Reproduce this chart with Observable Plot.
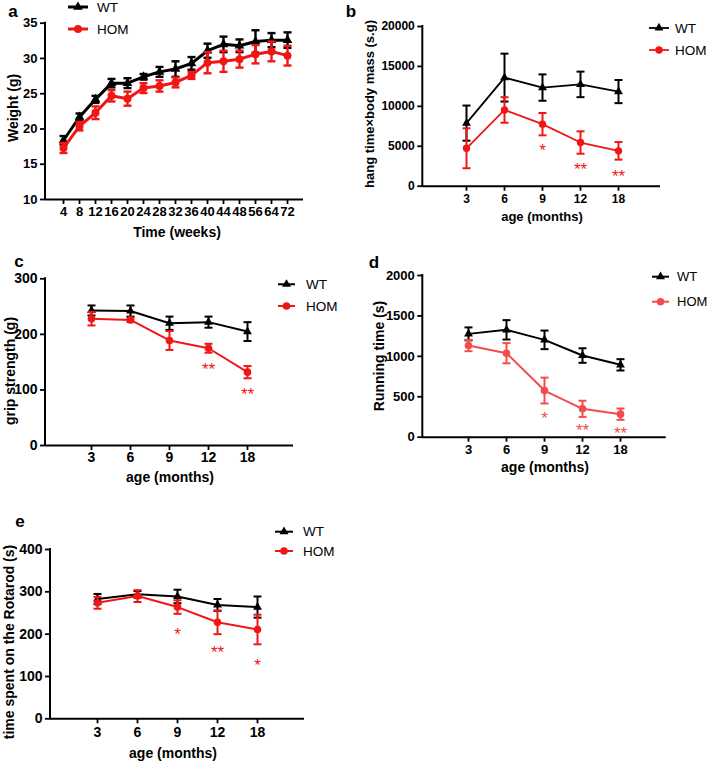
<!DOCTYPE html>
<html><head><meta charset="utf-8">
<script src="https://cdn.jsdelivr.net/npm/d3@7"></script>
<script src="https://cdn.jsdelivr.net/npm/@observablehq/plot@0.6"></script>
<style>
body{margin:0;background:#fff;}
#root{position:relative;width:708px;height:761px;overflow:hidden;font-family:"Liberation Sans",Arial,sans-serif;background:#fff;}
.panel{position:absolute;}
#overlay{position:absolute;left:0;top:0;pointer-events:none;}
</style></head><body><div id="root"></div>
<script>
// ---------- data ----------
const RED = "#f01616";
const RED_D = "#f24c4c";
const FONT = "'Liberation Sans', Arial, sans-serif";

// panel a: weight over time
const weeksA = ["4","8","12","16","20","24","28","32","36","40","44","48","56","64","72"];
const wtA    = [18.4, 21.7, 24.2, 26.5, 26.5, 27.4, 28.1, 28.5, 29.3, 31.1, 32.0, 31.8, 32.4, 32.6, 32.6];
const wtAErr = [0.6, 0.5, 0.5, 0.6, 0.7, 0.4, 0.7, 1.1, 0.9, 1.0, 1.1, 0.9, 1.6, 1.0, 1.1];
const homA    = [17.3, 20.4, 22.3, 24.7, 24.3, 25.8, 26.1, 26.6, 27.6, 29.4, 29.6, 29.9, 30.6, 31.0, 30.4];
const homAErr = [0.7, 0.6, 0.9, 0.8, 1.0, 0.7, 0.8, 0.7, 0.5, 1.5, 1.5, 1.2, 1.3, 1.4, 1.4];
const ticksA = [10, 15, 20, 25, 30, 35];

// months used by panels b-e
const months = ["3","6","9","12","18"];

// panel b: hang time x body mass
const wtB    = [7900, 13600, 12350, 12750, 11850];
const wtBErr = [2200, 3000, 1650, 1600, 1450];
const homB    = [4750, 9550, 7770, 5470, 4430];
const homBErr = [2500, 1600, 1400, 1400, 1100];
const ticksB = [0, 5000, 10000, 15000, 20000];
const starXB = ["9","12","18"], starTB = ["*","**","**"], starYB = [5000, 2600, 1750];

// panel c: grip strength
const wtC    = [243, 242, 220, 222, 205];
const wtCErr = [9, 10, 12, 10, 17];
const homC    = [228, 226, 189, 175, 132];
const homCErr = [12, 4, 17, 8, 11];
const ticksC = [0, 100, 200, 300];
const starXC = ["12","18"], starTC = ["**","**"], starYC = [144, 99];

// panel d: running time
const wtD    = [1278, 1328, 1204, 1010, 895];
const wtDErr = [80, 120, 115, 90, 70];
const homD    = [1134, 1039, 577, 351, 285];
const homDErr = [70, 125, 160, 100, 70];
const ticksD = [0, 500, 1000, 1500, 2000];
const starXD = ["9","12","18"], starTD = ["*","**","**"], starYD = [278, 133, 95];

// panel e: rotarod
const wtE    = [283, 294, 289, 269, 264];
const wtEErr = [12, 8, 16, 14, 25];
const homE    = [274, 290, 264, 228, 211];
const homEErr = [14, 14, 16, 28, 35];
const ticksE = [0, 100, 200, 300, 400];
const starXE = ["9","12","18"], starTE = ["*","**","*"], starYE = [208, 167, 136];

const seriesNames = ["WT", "HOM"];

// ---------- drawing ----------
const capSymbol = {draw(ctx, size) { const r = Math.sqrt(size / Math.PI); ctx.moveTo(-r, 0); ctx.lineTo(r, 0); }};
const root = d3.select("#root");

function drawPanel(p) {
  const rows = (vals, errs) => p.x.map((x, i) => ({x, y: vals[i], e: errs[i]}));
  const wt = rows(p.wt, p.wtE), hom = rows(p.hom, p.homE);
  const stars = p.starX.map((x, i) => ({x, t: p.starT[i], y: p.starY[i]}));
  const series = (data, color, symbol, r) => [
    Plot.ruleX(data, {x: "x", y1: d => d.y - d.e, y2: d => d.y + d.e, stroke: color, strokeWidth: p.ew}),
    Plot.dot(data, {x: "x", y: d => d.y + d.e, symbol: capSymbol, r: p.capR, stroke: color, fill: "none", strokeWidth: p.ew}),
    Plot.dot(data, {x: "x", y: d => d.y - d.e, symbol: capSymbol, r: p.capR, stroke: color, fill: "none", strokeWidth: p.ew}),
    Plot.line(data, {x: "x", y: "y", stroke: color, strokeWidth: p.lw}),
    Plot.dot(data, {x: "x", y: "y", symbol, r, fill: color, stroke: "none"})
  ];
  const plot = Plot.plot({
    width: p.w, height: p.h,
    marginLeft: p.mL, marginRight: p.mR, marginTop: p.mT, marginBottom: p.mB,
    style: {fontFamily: FONT, fontSize: p.fs + "px", fontWeight: "bold", color: "#000", background: "transparent", overflow: "visible"},
    x: {type: "point", domain: p.x, range: p.xRange},
    y: {domain: [p.yTicks[0], p.yTicks[p.yTicks.length - 1]]},
    marks: [
      Plot.axisX({tickSize: 5, tickPadding: p.xPad, strokeWidth: 1.8, label: null}),
      Plot.axisY({ticks: p.yTicks, tickFormat: d => String(d), tickSize: 5, tickPadding: 3, strokeWidth: 1.8, label: null}),
      Plot.ruleY([p.yTicks[0]], {strokeWidth: 2}),
      ...series(wt, "#000", "triangle", p.triR),
      ...series(hom, p.red, "circle", p.cirR),
      Plot.text(stars, {x: "x", y: "y", text: "t", fill: p.red, fontSize: 17, fontWeight: "normal", dy: 4})
    ]
  });
  const svg = d3.select(plot);
  const yr = plot.scale("y").range;
  svg.append("line").attr("x1", p.mL).attr("x2", p.mL).attr("y1", Math.min(...yr) - 1).attr("y2", Math.max(...yr) + 1)
    .attr("stroke", "#000").attr("stroke-width", 2);
  // axis titles
  svg.append("text").attr("transform", `translate(${p.yTitle[0]},${p.yTitle[1]}) rotate(-90)`)
    .attr("text-anchor", "middle").attr("dominant-baseline", "central")
    .attr("font-size", p.titleFs).attr("font-weight", "bold").text(p.yLabel);
  svg.append("text").attr("x", p.xTitle[0]).attr("y", p.xTitle[1])
    .attr("text-anchor", "middle").attr("dominant-baseline", "central")
    .attr("font-size", p.titleFs).attr("font-weight", "bold").text(p.xLabel);
  // legend
  const L = p.legend;
  const entries = [
    {name: seriesNames[0], color: "#000", sym: d3.symbolTriangle, r: p.triR, y: L.y[0]},
    {name: seriesNames[1], color: p.red, sym: d3.symbolCircle, r: p.cirR, y: L.y[1]}
  ];
  entries.forEach(e => {
    const g = svg.append("g");
    g.append("line").attr("x1", L.x0).attr("x2", L.x1).attr("y1", e.y).attr("y2", e.y)
      .attr("stroke", e.color).attr("stroke-width", p.lw);
    g.append("path").attr("transform", `translate(${(L.x0 + L.x1) / 2},${e.y})`)
      .attr("d", d3.symbol(e.sym, e.r * e.r * Math.PI)()).attr("fill", e.color);
    g.append("text").attr("x", L.tx).attr("y", e.y).attr("text-anchor", "start").attr("dominant-baseline", "central")
      .attr("font-size", L.fs || 13.5).attr("font-weight", "normal").text(e.name);
  });
  root.append("div").attr("class", "panel").style("left", p.left + "px").style("top", p.top + "px")
    .node().appendChild(plot);
}

drawPanel({
  left: 0, top: 0, w: 354, h: 245, mL: 45, mR: 51, mT: 22.7, mB: 46,
  x: weeksA, xRange: [52.3, 298.7], yTicks: ticksA, xPad: 2,
  wt: wtA, wtE: wtAErr, hom: homA, homE: homAErr, red: RED,
  starX: [], starT: [], starY: [],
  fs: 13, titleFs: 14, lw: 3, ew: 2.4, capR: 4, triR: 3.6, cirR: 4,
  yLabel: "Weight (g)", yTitle: [13, 108], xLabel: "Time (weeks)", xTitle: [177, 232],
  legend: {x0: 68, x1: 88, tx: 97, y: [7, 29]}
});

drawPanel({
  left: 354, top: 0, w: 354, h: 245, mL: 68.3, mR: 48, mT: 26, mB: 59.3,
  x: months, xRange: [92, 283.3], yTicks: ticksB, xPad: 3,
  wt: wtB, wtE: wtBErr, hom: homB, homE: homBErr, red: RED,
  starX: starXB, starT: starTB, starY: starYB,
  fs: 12, titleFs: 13, lw: 1.8, ew: 2, capR: 4, triR: 3.3, cirR: 3.7,
  yLabel: "hang time×body mass (s.g)", yTitle: [15, 104], xLabel: "age (months)", xTitle: [188, 216],
  legend: {x0: 295, x1: 315, tx: 321, y: [28, 50]}
});

drawPanel({
  left: 0, top: 245, w: 354, h: 245, mL: 45, mR: 61, mT: 33.3, mB: 45,
  x: months, xRange: [69.3, 268.3], yTicks: ticksC, xPad: 2,
  wt: wtC, wtE: wtCErr, hom: homC, homE: homCErr, red: RED,
  starX: starXC, starT: starTC, starY: starYC,
  fs: 14, titleFs: 14, lw: 2, ew: 2, capR: 4, triR: 3.3, cirR: 3.8,
  yLabel: "grip strength (g)", yTitle: [10, 126], xLabel: "age (months)", xTitle: [170, 232],
  legend: {x0: 278, x1: 295, tx: 306, y: [39.3, 61]}
});

drawPanel({
  left: 354, top: 245, w: 354, h: 245, mL: 68.3, mR: 42.3, mT: 30, mB: 53.3,
  x: months, xRange: [93.3, 287.3], yTicks: ticksD, xPad: 3,
  wt: wtD, wtE: wtDErr, hom: homD, homE: homDErr, red: RED_D,
  starX: starXD, starT: starTD, starY: starYD,
  fs: 13, titleFs: 14, lw: 2, ew: 2, capR: 4, triR: 3.3, cirR: 3.8,
  yLabel: "Running time (s)", yTitle: [25, 111], xLabel: "age (months)", xTitle: [191, 222],
  legend: {x0: 298, x1: 315, tx: 323, fs: 13, y: [31.7, 56.7]}
});

drawPanel({
  left: 0, top: 490, w: 354, h: 271, mL: 50, mR: 50, mT: 59, mB: 42.7,
  x: months, xRange: [75, 278.3], yTicks: ticksE, xPad: 3,
  wt: wtE, wtE: wtEErr, hom: homE, homE: homEErr, red: RED,
  starX: starXE, starT: starTE, starY: starYE,
  fs: 14, titleFs: 14, lw: 2, ew: 2, capR: 4, triR: 3.3, cirR: 3.8,
  yLabel: "time spent on the Rotarod (s)", yTitle: [9, 152], xLabel: "age (months)", xTitle: [173, 262.7],
  legend: {x0: 275, x1: 293, tx: 303, y: [41.7, 61]}
});

// panel letters
const letters = [{t: "a", x: 13, y: 11}, {t: "b", x: 351, y: 11}, {t: "c", x: 19, y: 261}, {t: "d", x: 374, y: 262}, {t: "e", x: 20, y: 521}];
const ov = root.append("svg").attr("id", "overlay").attr("width", 708).attr("height", 761);
ov.selectAll("text").data(letters).join("text")
  .attr("x", d => d.x).attr("y", d => d.y).attr("text-anchor", "middle").attr("dominant-baseline", "central")
  .attr("font-family", FONT).attr("font-size", 17).attr("font-weight", "bold").text(d => d.t);
</script></body></html>
